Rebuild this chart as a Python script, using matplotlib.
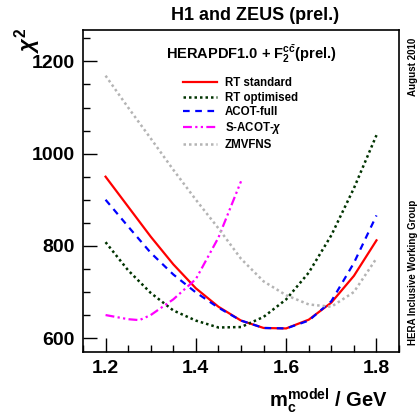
import numpy as np
import matplotlib
matplotlib.use('Agg')
import matplotlib.pyplot as plt
from matplotlib.ticker import MultipleLocator

plt.rcParams['font.family'] = ['Liberation Sans', 'DejaVu Sans']
plt.rcParams['font.weight'] = 'bold'
plt.rcParams['mathtext.fontset'] = 'custom'
plt.rcParams['mathtext.rm'] = 'Liberation Sans:bold'
plt.rcParams['mathtext.bf'] = 'Liberation Sans:bold'
plt.rcParams['mathtext.it'] = 'Liberation Sans:italic'

# chi2 vs charm mass
mc = [1.2, 1.25, 1.3, 1.35, 1.4, 1.45, 1.5, 1.55, 1.6, 1.65, 1.7, 1.75, 1.8]
rt_standard = [950, 885, 820, 760, 708, 668, 638, 622, 621, 640, 677, 735, 812]
rt_optimised = [808, 747, 698, 660, 638, 623, 624, 646, 684, 742, 823, 925, 1040]
acot_full = [900, 842, 785, 738, 699, 666, 638, 622, 621, 638, 680, 763, 866]
zmvfns = [1169, 1100, 1033, 965, 900, 838, 772, 723, 693, 673, 668, 700, 773]

mc_sacot = [1.2, 1.25, 1.275, 1.3, 1.35, 1.4, 1.45, 1.5]
s_acot = [650, 641, 639, 650, 684, 728, 818, 940]

fig = plt.figure(figsize=(4.17, 4.17), dpi=100)
ax = fig.add_axes([0.199, 0.156, 0.758, 0.772])

ax.plot(mc, rt_standard, color='#ff0000', lw=1.6, label='RT standard')
ax.plot(mc, rt_optimised, color='#003300', lw=1.8, ls=(0, (1, 1.2)), label='RT optimised')
ax.plot(mc, acot_full, color='#0000ff', lw=1.6, ls=(0, (3, 2.5)), label='ACOT-full')
ax.plot(mc_sacot, s_acot, color='#ff00ff', lw=1.6, ls=(0, (4, 1.5, 1, 1.5, 1, 1.5)), label=r'S-ACOT-$\chi$')
ax.plot(mc, zmvfns, color='#b4b4b4', lw=1.8, ls=(0, (1, 1.2)), label='ZMVFNS')

ax.set_xlim(1.15, 1.85)
ax.set_ylim(570, 1268)
ax.xaxis.set_major_locator(MultipleLocator(0.2))
ax.xaxis.set_minor_locator(MultipleLocator(0.05))
ax.yaxis.set_major_locator(MultipleLocator(200))
ax.yaxis.set_minor_locator(MultipleLocator(50))
ax.set_xticks([1.2, 1.4, 1.6, 1.8])
ax.set_xticklabels(['1.2', '1.4', '1.6', '1.8'])
ax.tick_params(which='both', direction='in', top=False, right=False, labelsize=14, width=1)
ax.tick_params(which='major', length=10, pad=6)
ax.tick_params(which='minor', length=5)
for lab in ax.get_xticklabels() + ax.get_yticklabels():
    lab.set_fontweight('bold')
for s in ax.spines.values():
    s.set_linewidth(1.2)

leg = ax.legend(loc='upper left', bbox_to_anchor=(0.285, 0.885), frameon=False, fontsize=8.3,
                handlelength=2.9, handletextpad=0.7, labelspacing=0.2)
for t in leg.get_texts():
    t.set_fontweight('bold')

fig.text(0.612, 0.963, 'H1 and ZEUS (prel.)', ha='center', va='center', fontsize=13, fontweight='bold')
fig.text(0.603, 0.87, r'HERAPDF1.0 + F$_2^{\mathbf{c\bar{c}}}$(prel.)', ha='center', va='center',
         fontsize=10.5, fontweight='bold')
fig.text(0.065, 0.905, r'$\chi^{2}$', ha='center', va='center', rotation=90, fontsize=16)
fig.text(0.93, 0.04, r'm$_{\mathbf{c}}^{\mathbf{model}}$ / GeV', ha='right', va='center',
         fontsize=14.5, fontweight='bold')
fig.text(0.99, 0.348, 'HERA Inclusive Working Group', ha='center', va='center', rotation=90,
         fontsize=7, fontweight='bold')
fig.text(0.99, 0.84, 'August 2010', ha='center', va='center', rotation=90,
         fontsize=7, fontweight='bold')

fig.savefig('out.png', dpi=100)
